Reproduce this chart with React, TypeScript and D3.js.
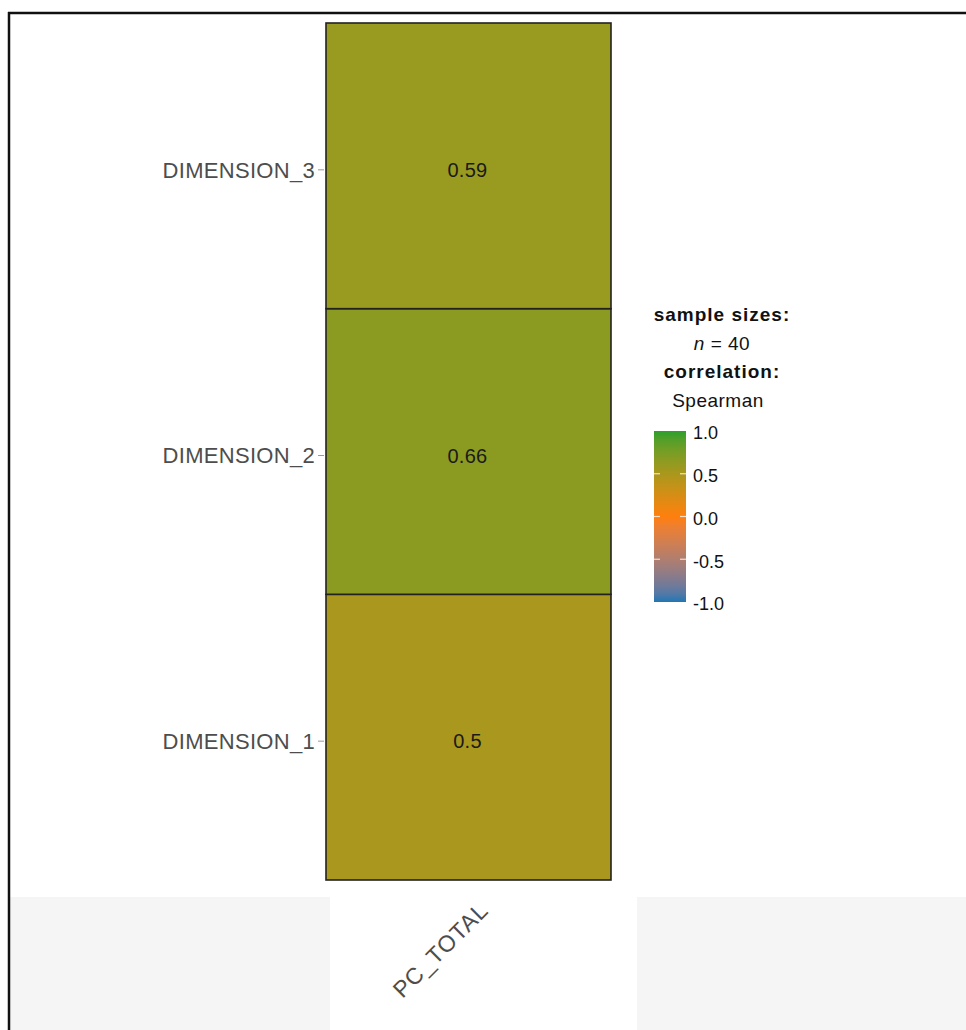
import React from "react";
import * as d3 from "d3";

const rowLabels = ["DIMENSION_1", "DIMENSION_2", "DIMENSION_3"];
const colLabels = ["PC_TOTAL"];
const corrValues = [0.5, 0.66, 0.59];
const corrText = ["0.5", "0.66", "0.59"];
const legendTicks = [1.0, 0.5, 0.0, -0.5, -1.0];
const legendTickLabels = ["1.0", "0.5", "0.0", "-0.5", "-1.0"];
const paletteDomain = [-1, 0, 1];
const paletteColors = ["#1f77b4", "#ff7f0e", "#2ca02c"];
const sampleSize = 40;
const corrType = "Spearman";

const W = 966;
const H = 1030;
const FONT = "'Liberation Sans', Arial, Helvetica, sans-serif";

export default function App() {
  const color = d3
    .scaleLinear<string>()
    .domain(paletteDomain)
    .range(paletteColors)
    .interpolate(d3.interpolateLab);

  const x = d3.scaleBand().domain(colLabels).range([326, 611]).padding(0);
  const y = d3
    .scaleBand()
    .domain([...rowLabels].reverse())
    .range([23, 880])
    .padding(0);

  const barX = 654;
  const barW = 32;
  const ly = d3.scaleLinear().domain([-1, 1]).range([602, 431]);
  const gradStops = d3.range(0, 1.0001, 0.05);

  const legendCx = 722;

  return (
    <svg
      width={W}
      height={H}
      style={{ position: "absolute", left: 0, top: 0, background: "#fff" }}
      fontFamily={FONT}
    >
      <defs>
        <linearGradient id="cbar" x1="0" y1="1" x2="0" y2="0">
          {gradStops.map((t, i) => (
            <stop key={i} offset={t} stopColor={color(-1 + 2 * t)} />
          ))}
        </linearGradient>
      </defs>
      <rect x={0} y={0} width={W} height={H} fill="#fff" />
      {/* bottom grey band */}
      <rect x={10} y={897} width={320} height={H - 897} fill="#f5f5f5" />
      <rect x={637} y={897} width={W - 637} height={H - 897} fill="#f5f5f5" />
      {/* outer frame lines */}
      <line x1={8} y1={13} x2={W} y2={13} stroke="#111" strokeWidth={2.5} />
      <line x1={9} y1={12} x2={9} y2={H} stroke="#111" strokeWidth={2.5} />

      {/* tiles */}
      {rowLabels.map((r, i) => (
        <g key={r}>
          <rect
            x={x(colLabels[0])}
            y={y(r)}
            width={x.bandwidth()}
            height={y.bandwidth()}
            fill={color(corrValues[i])}
            stroke="#222"
            strokeWidth={1.6}
          />
          <text
            x={(x(colLabels[0]) as number) + x.bandwidth() / 2 - 1}
            y={(y(r) as number) + y.bandwidth() / 2 + 4}
            dy="0.35em"
            textAnchor="middle"
            fontSize={20}
            letterSpacing={0.3}
            fill="#1a1a1a"
          >
            {corrText[i]}
          </text>
        </g>
      ))}

      {/* y axis labels */}
      {rowLabels.map((r) => {
        const cy = (y(r) as number) + y.bandwidth() / 2;
        return (
          <g key={"yl" + r}>
            <line x1={318} x2={324} y1={cy + 4} y2={cy + 4} stroke="#999" strokeWidth={1} />
            <text
              x={315}
              y={cy + 4}
              dy="0.35em"
              textAnchor="end"
              fontSize={22}
              letterSpacing={0.3}
              fill="#4d4d4d"
            >
              {r}
            </text>
          </g>
        );
      })}

      {/* x axis label */}
      {colLabels.map((c) => {
        const cx = (x(c) as number) + x.bandwidth() / 2;
        return (
          <text
            key={"xl" + c}
            transform={`translate(${cx + 21},${912}) rotate(-45)`}
            textAnchor="end"
            fontSize={23}
            letterSpacing={0.8}
            fill="#4d4d4d"
          >
            {c}
          </text>
        );
      })}

      {/* legend titles */}
      <text x={legendCx} y={321} textAnchor="middle" fontSize={19} fontWeight="bold" letterSpacing={1} fill="#111">
        sample sizes:
      </text>
      <text x={legendCx} y={350} textAnchor="middle" fontSize={19} letterSpacing={0.5} fill="#111">
        <tspan fontStyle="italic">n</tspan> = {sampleSize}
      </text>
      <text x={legendCx} y={378} textAnchor="middle" fontSize={19} fontWeight="bold" letterSpacing={1} fill="#111">
        correlation:
      </text>
      <text x={legendCx - 4} y={407} textAnchor="middle" fontSize={19} letterSpacing={0.5} fill="#111">
        {corrType}
      </text>

      {/* colour bar */}
      <rect x={barX} y={ly(1)} width={barW} height={ly(-1) - ly(1)} fill="url(#cbar)" />
      {legendTicks.map((t, i) => (
        <g key={"lt" + i}>
          {Math.abs(t) < 1 && (
            <>
              <line x1={barX} x2={barX + 6} y1={ly(t)} y2={ly(t)} stroke="#fff" strokeOpacity={0.75} strokeWidth={1.2} />
              <line x1={barX + barW - 6} x2={barX + barW} y1={ly(t)} y2={ly(t)} stroke="#fff" strokeOpacity={0.75} strokeWidth={1.2} />
            </>
          )}
          <text x={barX + barW + 7} y={ly(t) + 2} dy="0.35em" fontSize={18} fill="#111">
            {legendTickLabels[i]}
          </text>
        </g>
      ))}
    </svg>
  );
}
